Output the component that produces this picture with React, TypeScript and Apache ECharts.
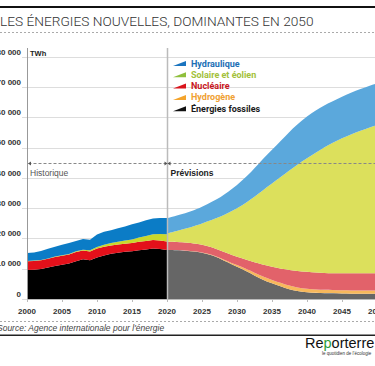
import React, { useEffect, useRef } from "react";
import * as echarts from "echarts";

// ---- Data (TWh) ----
const histYears = [2000, 2001, 2002, 2003, 2004, 2005, 2006, 2007, 2008, 2009, 2010, 2011, 2012, 2013, 2014, 2015, 2016, 2017, 2018, 2019, 2020];
const histFossil = [9600, 9700, 9900, 10400, 10900, 11300, 11700, 12500, 13100, 12800, 13700, 14400, 15000, 15300, 15600, 15800, 16100, 16400, 16700, 16500, 16200];
const histHydrogen = [0, 0, 0, 0, 0, 0, 0, 0, 0, 0, 0, 0, 0, 0, 0, 0, 0, 0, 0, 0, 0];
const histNuclear = [2900, 2900, 2900, 2900, 3000, 3000, 3000, 3000, 2900, 2900, 3000, 2900, 2700, 2700, 2700, 2700, 2800, 2800, 2800, 2800, 2800];
const histSolar = [100, 100, 100, 100, 150, 200, 200, 300, 300, 400, 500, 600, 800, 900, 1000, 1200, 1400, 1600, 1900, 2200, 2400];
const histHydro = [2600, 2700, 3000, 3200, 3200, 3400, 3600, 3400, 3500, 3500, 4100, 4300, 4200, 4500, 4700, 5000, 5000, 5200, 5200, 5300, 5400];

const projYears = [2020, 2025, 2030, 2035, 2040, 2045, 2050];
const projFossil = [16200, 15300, 10700, 5200, 2200, 1800, 1700];
const projHydrogen = [0, 100, 500, 1100, 1200, 1100, 1100];
const projNuclear = [2700, 2500, 2800, 4400, 5600, 5600, 5700];
const projSolar = [2800, 7100, 16000, 27500, 37500, 44600, 49000];
const projHydro = [5000, 5500, 7700, 11100, 13800, 13800, 13800];

const legendLabels = ["Hydraulique", "Solaire et éolien", "Nucléaire", "Hydrogène", "Énergies fossiles"];
const legendTextColors = ["#1d6fb5", "#a3c13a", "#c8151d", "#f0a032", "#1a1a1a"];
const legendIconColors = ["#1a74bf", "#8fbf3c", "#d9141c", "#f4a42c", "#111111"];

const histColors = { fossil: "#000000", hydrogen: "#f5a623", nuclear: "#e3101a", solar: "#c9d82c", hydro: "#0b7cc6" };
const projColors = { fossil: "#666666", hydrogen: "#f7b85c", nuclear: "#e2626a", solar: "#dce05c", hydro: "#5ba8dc" };

const xMin = 2000;
const xMax = 2050;
const xStep = 5;
const yTickMax = 80000;
const yTickStep = 10000;

function fmtY(v: number) {
  if (v === 0) return "0";
  return Math.round(v / 1000) + " 000";
}

export default function App() {
  const ref = useRef<HTMLDivElement>(null);
  useEffect(() => {
    if (!ref.current) return;
    const chart = echarts.init(ref.current, null, { renderer: "svg" });

    // data stored as [value, year] so that the stacked dimension is the value (y)
    const mk = (name: string, stack: string, xs: number[], ys: number[], color: string, smooth: boolean) => ({
      name,
      type: "line",
      stack,
      data: xs.map((x, i) => [ys[i], x]),
      encode: { x: 1, y: 0 },
      symbol: "none",
      showSymbol: false,
      smooth: smooth ? 0.4 : false,
      lineStyle: { width: 0 },
      itemStyle: { color },
      areaStyle: { color, opacity: 1 },
      silent: true,
    });

    const series = [
      mk("hf", "h", histYears, histFossil, histColors.fossil, false),
      mk("hh", "h", histYears, histHydrogen, histColors.hydrogen, false),
      mk("hn", "h", histYears, histNuclear, histColors.nuclear, false),
      mk("hs", "h", histYears, histSolar, histColors.solar, false),
      mk("hy", "h", histYears, histHydro, histColors.hydro, false),
      mk("pf", "p", projYears, projFossil, projColors.fossil, true),
      mk("ph", "p", projYears, projHydrogen, projColors.hydrogen, true),
      mk("pn", "p", projYears, projNuclear, projColors.nuclear, true),
      mk("ps", "p", projYears, projSolar, projColors.solar, true),
      mk("py", "p", projYears, projHydro, projColors.hydro, true),
    ];

    chart.setOption({
      animation: false,
      grid: { left: 27, top: 57, width: 350, height: 242, outerBoundsMode: "none", containLabel: false },
      xAxis: {
        type: "value",
        min: xMin,
        max: xMax,
        interval: xStep,
        axisLine: { show: true, lineStyle: { color: "#bbb" } },
        axisTick: { show: true, length: 3, lineStyle: { color: "#bbb" } },
        splitLine: { show: false },
        axisLabel: {
          formatter: (v: number) => String(v),
          fontFamily: "Liberation Sans",
          fontWeight: "bold",
          fontSize: 8,
          color: "#333",
          margin: 8,
          showMaxLabel: true,
          showMinLabel: true,
        },
      },
      yAxis: {
        type: "value",
        min: 0,
        max: yTickMax,
        interval: yTickStep,
        axisLine: { show: false },
        axisTick: { show: true, length: 5, lineStyle: { color: "#ddd" } },
        splitLine: { show: true, lineStyle: { color: "#ddd", width: 1 } },
        axisLabel: {
          formatter: fmtY,
          fontFamily: "Liberation Sans",
          fontWeight: "bold",
          fontSize: 8,
          color: "#333",
          margin: 6,
          verticalAlign: "bottom",
          padding: [0, 0, 1, 0],
        },
      },
      series,
    });

    const p2020 = chart.convertToPixel({ gridIndex: 0 }, [2020, 45000]) as number[];
    const p2000 = chart.convertToPixel({ gridIndex: 0 }, [2000, 0]) as number[];
    const x20 = Math.round(p2020[0]) + 0.5;
    const x00 = Math.round(p2000[0]) + 0.5;
    const yArrow = Math.round(p2020[1]) + 0.5;
    const yBase = p2000[1];

    const legendEls: any[] = [];
    legendLabels.forEach((lab, i) => {
      const cy = 63.5 + i * 11.3;
      legendEls.push({
        type: "polygon",
        shape: { points: [[173, cy + 2.5], [186, cy + 2.5], [186, cy - 2.5]] },
        style: { fill: legendIconColors[i] },
        silent: true,
      });
      legendEls.push({
        type: "text",
        x: 191,
        y: cy,
        style: {
          text: lab,
          fill: legendTextColors[i],
          font: "bold 9px Roboto",
          verticalAlign: "middle",
        },
        silent: true,
      });
    });

    chart.setOption({
      graphic: [
        { type: "rect", shape: { x: 0, y: 6, width: 375, height: 2 }, style: { fill: "#111" }, silent: true },
        {
          type: "text",
          x: 0,
          y: 21,
          style: { text: "LES ÉNERGIES NOUVELLES, DOMINANTES EN 2050", font: "300 13.7px Roboto", fill: "#333", verticalAlign: "middle" },
          silent: true,
        },
        { type: "line", shape: { x1: 0, y1: 32.5, x2: 375, y2: 32.5 }, style: { stroke: "#aaa", lineWidth: 1, lineDash: [2, 2] }, silent: true },
        {
          type: "text",
          x: 30,
          y: 53,
          style: { text: "TWh", font: "bold 7.5px 'Liberation Sans'", fill: "#222", verticalAlign: "middle" },
          silent: true,
        },
        { type: "line", shape: { x1: x00, y1: 48, x2: x00, y2: yBase }, style: { stroke: "#999", lineWidth: 1 }, silent: true, z: 10 },
        { type: "line", shape: { x1: x20, y1: 48, x2: x20, y2: yBase }, style: { stroke: "#bbb", lineWidth: 1.5 }, silent: true, z: 10 },
        { type: "line", shape: { x1: x00 + 1, y1: yArrow, x2: 376, y2: yArrow }, style: { stroke: "#888", lineWidth: 1, lineDash: [3, 2] }, silent: true, z: 10 },
        { type: "polygon", shape: { points: [[x00 + 0.5, yArrow], [x00 + 3.5, yArrow - 2], [x00 + 3.5, yArrow + 2]] }, style: { fill: "#555" }, silent: true, z: 10 },
        { type: "polygon", shape: { points: [[x20 - 3, yArrow - 2], [x20 - 3, yArrow + 2], [x20, yArrow]] }, style: { fill: "#555" }, silent: true, z: 10 },
        { type: "polygon", shape: { points: [[x20 + 3, yArrow - 2], [x20 + 3, yArrow + 2], [x20, yArrow]] }, style: { fill: "#555" }, silent: true, z: 10 },
        {
          type: "text",
          x: 30,
          y: yArrow + 9,
          style: { text: "Historique", font: "8.5px 'Liberation Sans'", fill: "#555", verticalAlign: "middle" },
          silent: true,
          z: 10,
        },
        {
          type: "text",
          x: x20 + 3,
          y: yArrow + 9,
          style: { text: "Prévisions", font: "bold 8.5px 'Liberation Sans'", fill: "#222", verticalAlign: "middle" },
          silent: true,
          z: 10,
        },
        ...legendEls,
        { type: "line", shape: { x1: 0, y1: 321.5, x2: 375, y2: 321.5 }, style: { stroke: "#aaa", lineWidth: 1, lineDash: [2, 2] }, silent: true },
        {
          type: "text",
          x: -3,
          y: 328,
          style: { text: "Source: Agence internationale pour l'énergie", font: "italic 8.5px 'Liberation Sans'", fill: "#444", verticalAlign: "middle" },
          silent: true,
        },
        { type: "rect", shape: { x: 0, y: 334.5, width: 375, height: 1.4 }, style: { fill: "#222" }, silent: true },
        {
          type: "text",
          x: 305,
          y: 343,
          style: {
            text: "{a|Re}{b|p}{a|orterre}",
            verticalAlign: "middle",
            rich: {
              a: { font: "14.5px 'Liberation Sans'", fill: "#111" },
              b: { font: "14.5px 'Liberation Sans'", fill: "#2a9d3a" },
            },
          },
          silent: true,
        },
        {
          type: "text",
          x: 322,
          y: 353.5,
          style: { text: "le quotidien de l'écologie", font: "4.5px 'Liberation Sans'", fill: "#333", verticalAlign: "middle" },
          silent: true,
        },
      ],
    });

    return () => chart.dispose();
  }, []);

  return <div ref={ref} style={{ position: "absolute", left: 0, top: 0, width: 375, height: 366, background: "#fff" }} />;
}
